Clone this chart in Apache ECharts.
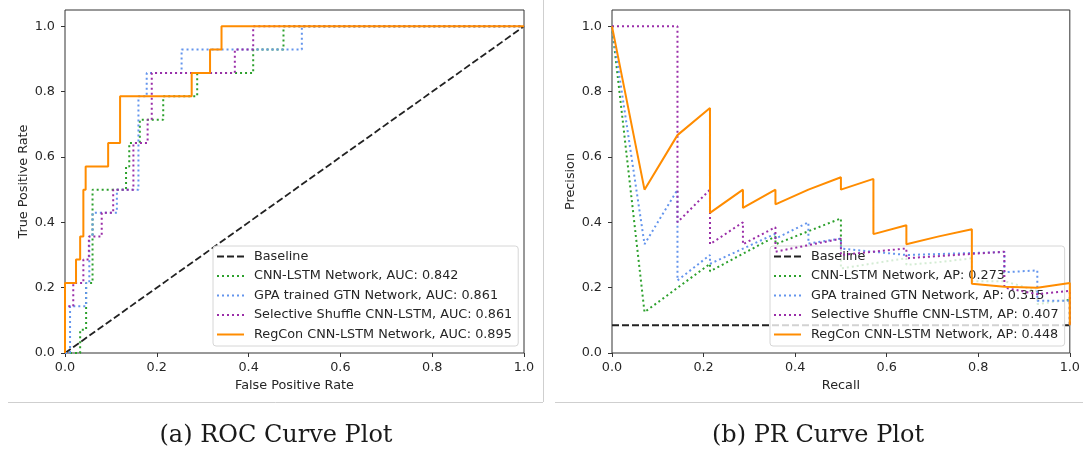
<!DOCTYPE html>
<html>
<head>
<meta charset="utf-8">
<script src="https://cdn.jsdelivr.net/npm/echarts@6/dist/echarts.min.js"></script>
<style>
  html, body { margin: 0; padding: 0; background: #fff; }
  #chart { width: 1083px; height: 453px; }
</style>
</head>
<body>
<div id="chart"></div>
<script>
// ROC curves (FPR, TPR)
const rocBaseline = [[0, 0], [1, 1]];
const rocCnnLstm = [
  [0, 0], [0.033, 0], [0.033, 0.071], [0.046, 0.071], [0.046, 0.214], [0.06, 0.214],
  [0.06, 0.5], [0.133, 0.5], [0.133, 0.571], [0.14, 0.571], [0.14, 0.643], [0.163, 0.643],
  [0.163, 0.714], [0.214, 0.714], [0.214, 0.786], [0.288, 0.786], [0.288, 0.857],
  [0.41, 0.857], [0.41, 0.929], [0.476, 0.929], [0.476, 1], [1, 1]
];
const rocGpaGtn = [
  [0, 0], [0.011, 0], [0.011, 0.143], [0.046, 0.143], [0.046, 0.214], [0.053, 0.214],
  [0.053, 0.357], [0.06, 0.357], [0.06, 0.429], [0.113, 0.429], [0.113, 0.5], [0.16, 0.5],
  [0.16, 0.786], [0.178, 0.786], [0.178, 0.857], [0.254, 0.857], [0.254, 0.929],
  [0.516, 0.929], [0.516, 1], [1, 1]
];
const rocShuffle = [
  [0, 0], [0, 0.143], [0.018, 0.143], [0.018, 0.214], [0.04, 0.214], [0.04, 0.286],
  [0.052, 0.286], [0.052, 0.357], [0.08, 0.357], [0.08, 0.429], [0.105, 0.429], [0.105, 0.5],
  [0.149, 0.5], [0.149, 0.643], [0.18, 0.643], [0.18, 0.714], [0.189, 0.714], [0.189, 0.857],
  [0.37, 0.857], [0.37, 0.929], [0.41, 0.929], [0.41, 1], [1, 1]
];
const rocRegCon = [
  [0, 0], [0, 0.214], [0.024, 0.214], [0.024, 0.286], [0.033, 0.286], [0.033, 0.357],
  [0.04, 0.357], [0.04, 0.5], [0.045, 0.5], [0.045, 0.571], [0.094, 0.571], [0.094, 0.643],
  [0.12, 0.643], [0.12, 0.786], [0.276, 0.786], [0.276, 0.857], [0.316, 0.857], [0.316, 0.929],
  [0.341, 0.929], [0.341, 1], [1, 1]
];

// PR curves (recall, precision)
const prBaseline = [[0, 0.085], [1, 0.085]];
const prCnnLstm = [
  [0, 1], [0.071, 0.125], [0.214, 0.273], [0.214, 0.25], [0.357, 0.357], [0.357, 0.333],
  [0.5, 0.412], [0.5, 0.259], [0.643, 0.29], [0.643, 0.27], [0.714, 0.278], [0.786, 0.29],
  [0.786, 0.22], [0.857, 0.22], [0.929, 0.19], [0.929, 0.15], [1, 0.163], [1, 0.085]
];
const prGpaGtn = [
  [0, 1], [0.071, 0.333], [0.143, 0.5], [0.143, 0.222], [0.214, 0.3], [0.214, 0.273],
  [0.357, 0.365], [0.357, 0.35], [0.429, 0.4], [0.429, 0.335], [0.5, 0.35], [0.5, 0.32],
  [0.643, 0.3], [0.857, 0.309], [0.857, 0.247], [0.929, 0.253], [0.929, 0.16], [1, 0.16], [1, 0.085]
];
const prShuffle = [
  [0, 1], [0.143, 1], [0.143, 0.4], [0.214, 0.5], [0.214, 0.333], [0.286, 0.4], [0.286, 0.333],
  [0.357, 0.385], [0.357, 0.31], [0.5, 0.35], [0.5, 0.3], [0.643, 0.32], [0.643, 0.29],
  [0.857, 0.31], [0.857, 0.2], [0.929, 0.18], [1, 0.19], [1, 0.085]
];
const prRegCon = [
  [0, 1], [0.071, 0.5], [0.143, 0.667], [0.214, 0.75], [0.214, 0.429], [0.286, 0.5],
  [0.286, 0.444], [0.357, 0.5], [0.357, 0.455], [0.429, 0.5], [0.5, 0.538], [0.5, 0.5],
  [0.571, 0.533], [0.571, 0.364], [0.643, 0.391], [0.643, 0.333], [0.714, 0.357],
  [0.786, 0.379], [0.786, 0.212], [0.857, 0.203], [0.857, 0.2], [0.929, 0.2], [1, 0.214], [1, 0.085]
];

const rocNames = [
  'Baseline',
  'CNN-LSTM Network, AUC: 0.842',
  'GPA trained GTN Network, AUC: 0.861',
  'Selective Shuffle CNN-LSTM, AUC: 0.861',
  'RegCon CNN-LSTM Network, AUC: 0.895'
];
const prNames = [
  'Baseline',
  'CNN-LSTM Network, AP: 0.273',
  'GPA trained GTN Network, AP: 0.315',
  'Selective Shuffle CNN-LSTM, AP: 0.407',
  'RegCon CNN-LSTM Network, AP: 0.448'
];
const yTicks = [0, 0.2, 0.4, 0.6, 0.8, 1.0];
const captions = ['(a) ROC Curve Plot', '(b) PR Curve Plot'];

const FONT = 'DejaVu Sans';
const FS = 12.8;
const TEXT = '#262626';
const AXIS = '#333';

const lineStyles = [
  { color: '#222', width: 1.8, type: [7, 3] },
  { color: '#2ca02c', width: 2, type: [2, 3] },
  { color: '#6495ed', width: 2, type: [2, 3] },
  { color: '#9a2ea8', width: 2, type: [2, 3] },
  { color: '#ff8c00', width: 2, type: 'solid' }
];

function xAxisFor(idx, name) {
  return {
    type: 'value', gridIndex: idx, min: 0, max: 1, interval: 0.2,
    name: name, nameLocation: 'middle', nameGap: 26,
    nameTextStyle: { fontFamily: FONT, fontSize: FS, color: TEXT },
    axisLine: { show: false },
    axisTick: { show: true, length: 4, lineStyle: { color: AXIS, width: 1 } },
    axisLabel: {
      fontFamily: FONT, fontSize: FS, color: TEXT, margin: 8,
      formatter: v => v.toFixed(1)
    },
    splitLine: { show: false }
  };
}

function yAxisFor(idx, name) {
  return {
    type: 'value', gridIndex: idx, min: 0, max: 1.05,
    name: name, nameLocation: 'middle', nameGap: 35,
    nameTextStyle: { fontFamily: FONT, fontSize: FS, color: TEXT },
    axisLine: { show: false },
    axisTick: { show: true, length: 4, customValues: yTicks, lineStyle: { color: AXIS, width: 1 } },
    axisLabel: {
      fontFamily: FONT, fontSize: FS, color: TEXT, margin: 10, customValues: yTicks,
      formatter: v => v.toFixed(1)
    },
    splitLine: { show: false }
  };
}

function seriesFor(idx, names, datasets) {
  return datasets.map((d, i) => ({
    type: 'line', name: names[i], xAxisIndex: idx, yAxisIndex: idx,
    data: d, showSymbol: false, symbol: 'none',
    lineStyle: lineStyles[i], itemStyle: { color: lineStyles[i].color },
    emphasis: { disabled: true }, z: 2 + i
  }));
}

function legendFor(left, top, names) {
  return {
    data: names, orient: 'vertical', left: left, top: top,
    itemWidth: 27, itemHeight: 14, itemGap: 6.5,
    padding: [4, 6, 5, 3],
    backgroundColor: 'rgba(255,255,255,0.8)',
    borderColor: '#d6d6d6', borderWidth: 1, borderRadius: 3,
    itemStyle: { opacity: 0 },
    textStyle: { fontFamily: FONT, fontSize: FS, color: TEXT, padding: [0, 0, 0, 5] },
    selectedMode: false
  };
}

const chart = echarts.init(document.getElementById('chart'), null, { renderer: 'canvas' });

chart.setOption({
  animation: false,
  backgroundColor: '#fff',
  grid: [
    { left: 65, top: 10, width: 459, height: 343, show: true, borderColor: AXIS, borderWidth: 1, backgroundColor: 'transparent' },
    { left: 612, top: 10, width: 458.5, height: 343, show: true, borderColor: AXIS, borderWidth: 1, backgroundColor: 'transparent' }
  ],
  xAxis: [xAxisFor(0, 'False Positive Rate'), xAxisFor(1, 'Recall')],
  yAxis: [yAxisFor(0, 'True Positive Rate'), yAxisFor(1, 'Precision')],
  legend: [legendFor(213, 246, rocNames), legendFor(770, 246, prNames)],
  series: [
    ...seriesFor(0, rocNames, [rocBaseline, rocCnnLstm, rocGpaGtn, rocShuffle, rocRegCon]),
    ...seriesFor(1, prNames, [prBaseline, prCnnLstm, prGpaGtn, prShuffle, prRegCon])
  ],
  graphic: [
    { type: 'line', shape: { x1: 8, y1: 402.5, x2: 543, y2: 402.5 }, style: { stroke: '#cfcfcf', lineWidth: 1 } },
    { type: 'line', shape: { x1: 543.5, y1: 0, x2: 543.5, y2: 402 }, style: { stroke: '#cfcfcf', lineWidth: 1 } },
    { type: 'line', shape: { x1: 555, y1: 402.5, x2: 1083, y2: 402.5 }, style: { stroke: '#cfcfcf', lineWidth: 1 } },
    {
      type: 'text', x: 276, y: 436,
      style: { text: captions[0], fontFamily: 'DejaVu Serif', fontSize: 24, fill: '#1a1a1a', align: 'center', verticalAlign: 'middle' }
    },
    {
      type: 'text', x: 818, y: 436,
      style: { text: captions[1], fontFamily: 'DejaVu Serif', fontSize: 24, fill: '#1a1a1a', align: 'center', verticalAlign: 'middle' }
    }
  ]
});
</script>
</body>
</html>
